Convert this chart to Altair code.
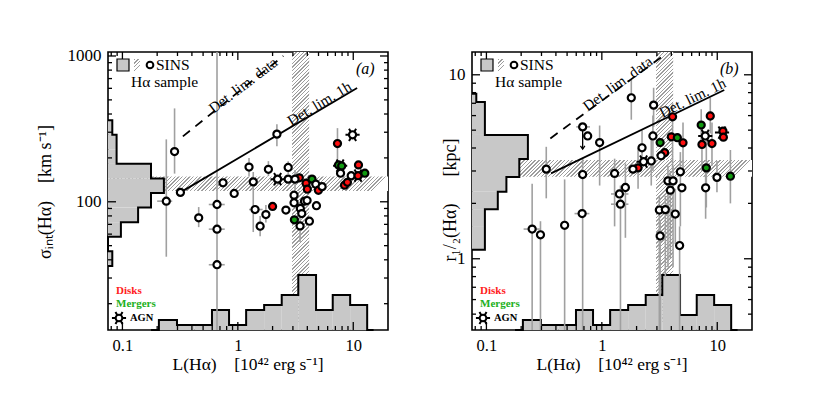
import math
import altair as alt
import pandas as pd

W, H = 280, 278
XDOM = [0.075, 20.0]
YDOM_A = [13.2, 1065.0]
YDOM_B = [0.41, 13.3]
SERIF = "Liberation Serif"

# ---------------- panel (a): L(Ha) [1e42 erg/s] vs sigma_int [km/s] ----------------
A_L = [0.24, 0.318, 0.283, 0.458, 0.66, 0.66, 0.66, 0.744, 0.93, 1.25,
       1.36, 1.41, 1.56, 1.75, 2.0, 1.84, 2.18, 2.21, 2.61, 2.73,
       2.73, 3.07, 3.07, 3.41, 3.13, 3.48, 3.58, 3.09, 3.46, 3.78,
       3.98, 3.9, 4.0, 4.39, 4.74, 4.99, 5.37, 4.17, 4.8, 7.3,
       9.86, 7.45, 7.94, 7.76, 11.1, 9.6, 11.0, 12.6, 8.4, 8.9]
A_S = [101, 116, 221, 77.6, 95.8, 64.9, 37, 135, 114, 173,
       137, 88.5, 68, 81.7, 92.9, 167, 291, 143, 87.7, 172,
       143, 111, 98.4, 146, 143, 90, 83, 75.2, 68.3, 101,
       102, 134, 122, 143, 132, 120, 127, 73.6, 94, 251,
       288, 179, 176, 157, 179, 151, 151, 157, 130, 136]
A_K = list("oooooooooo" "oooodooooo" "ooodooomoo" "oddmodoood" "ommododmdd")

A_EB_L = [0.24, 0.283, 0.458, 0.66, 1.25, 1.36, 1.56, 1.75, 1.84, 2.18, 3.46, 7.3, 3.13, 2.73]
A_EB_LO = [42, 156, 67, 13.2, 150, 62, 58, 72, 150, 240, 53, 179, 120, 155]
A_EB_HI = [268, 437, 92, 1065, 200, 160, 80, 95, 190, 340, 80, 320, 165, 190]
A_HB_S = [101, 95.8, 64.9, 37, 88.5]
A_HB_LO = [0.2, 0.56, 0.56, 0.56, 1.25]
A_HB_HI = [0.27, 0.77, 0.77, 0.77, 1.64]
A_AGN_L = [2.21, 9.86, 7.7, 11.0]
A_AGN_S = [143, 288, 177, 151]
A_DASH_L = [0.334, 2.48]
A_DASH_S = [281, 1000]
A_SOLID_L = [0.318, 10.8]
A_SOLID_S = [116, 604]
A_LAB_L = [1.11, 5.08]
A_LAB_S = [631, 472]
A_LAB_ANG = [323, 329]
A_BAND_Y = [118.5, 149.0]
A_YH_EDGES = [36.3, 45.7, 57.5, 72.4, 91.2, 114.8, 144.5, 182.0, 229.0, 288.0, 363.0]
A_YH_COUNTS = [1, 0, 3, 7, 10, 13, 10, 2, 2, 1]

# ---------------- panel (b): L(Ha) vs r_1/2 [kpc] ----------------
B_L = [0.33, 0.682, 0.754, 0.957, 0.682, 0.675, 0.249, 0.294, 0.476, 1.80,
       2.81, 4.1, 2.77, 3.2, 4.0, 4.51, 5.05, 2.23, 3.5, 3.26,
       2.68, 2.3, 2.06, 1.86, 1.29, 1.6, 1.42, 1.45, 4.79, 3.74,
       4.14, 3.92, 4.94, 3.15, 3.55, 4.33, 3.2, 4.72, 8.7, 7.26,
       7.87, 7.37, 9.0, 11.2, 11.3, 8.04, 9.94, 13.0, 7.93]
B_R = [3.07, 5.21, 4.65, 4.28, 2.87, 1.76, 1.45, 1.35, 1.52, 7.5,
       6.84, 5.91, 4.65, 4.28, 4.6, 4.55, 4.27, 4.01, 3.77, 3.63,
       3.4, 3.37, 3.12, 3.07, 2.91, 2.44, 2.25, 1.98, 2.97, 2.65,
       2.65, 2.36, 2.43, 1.84, 1.85, 1.75, 1.33, 1.18, 5.97, 5.33,
       4.65, 4.18, 4.23, 4.94, 4.58, 3.12, 2.77, 2.81, 2.43]
B_K = list("oooooooooo" "odomdmdodo" "oodooooooo" "oooooooodm" "oddddmomo")

B_EB_L = [0.33, 0.957, 0.682, 0.249, 0.294, 0.476, 1.80, 4.1, 5.05, 1.29,
          1.6, 1.45, 4.79, 3.74, 4.14, 3.92, 3.15, 3.2, 4.72, 3.55,
          4.33, 7.93, 9.94, 8.04, 13.0, 7.26, 8.7, 2.23, 2.68, 2.06,
          2.81, 2.77, 7.37, 9.0]
B_EB_LO = [2.13, 2.5, 0.41, 0.41, 0.41, 0.41, 5.7, 3.0, 3.0, 1.5,
           1.3, 0.41, 1.5, 0.9, 0.9, 1.0, 0.41, 0.41, 0.41, 0.8,
           1.2, 1.65, 2.3, 1.9, 2.0, 4.0, 4.8, 3.2, 2.5, 2.4,
           5.2, 3.0, 3.0, 3.2]
B_EB_HI = [4.06, 5.3, 3.5, 2.56, 1.6, 2.7, 9.4, 7.0, 5.5, 3.5,
           3.3, 2.5, 3.8, 3.2, 3.2, 3.0, 2.2, 1.6, 1.5, 2.2,
           2.4, 3.0, 3.4, 4.5, 3.9, 6.5, 7.5, 5.0, 4.5, 4.0,
           8.5, 6.0, 5.5, 5.5]
B_HB_R = [5.21, 1.76, 1.45, 2.25, 1.98]
B_HB_LO = [0.6, 0.58, 0.21, 1.2, 1.2]
B_HB_HI = [0.79, 0.78, 0.29, 1.7, 1.7]
B_AGN_L = [2.3, 7.87, 11.0]
B_AGN_R = [3.37, 4.65, 4.85]
B_ARROW_L = [0.682]
B_ARROW_FROM = [5.21]
B_ARROW_TO = [3.95]
B_DASH_L = [0.358, 3.47]
B_DASH_R = [4.51, 12.8]
B_SOLID_L = [0.363, 11.5]
B_SOLID_R = [2.91, 8.26]
B_LAB_L = [1.37, 6.11]
B_LAB_R = [8.95, 7.5]
B_LAB_ANG = [324, 334]
B_BAND_Y = [2.79, 3.44]
B_YH_EDGES = [1.12, 1.49, 1.86, 2.31, 2.78, 3.49, 4.71, 7.11, 7.88]
B_YH_COUNTS = [3, 3, 6, 8, 11, 13, 3, 1]

# ---------------- shared: L(Ha) histogram of the Ha sample ----------------
HX_EDGES = [0.207, 0.297, 0.42, 0.597, 0.839, 1.18, 1.69, 2.40, 3.34, 4.76, 6.64, 9.4, 13.2]
HX_COUNTS_A = [2, 1, 1, 4, 1, 4, 5, 7, 11, 4, 7, 5]
HX_COUNTS_B = [2, 1, 1, 4, 1, 4, 5, 7, 11, 3, 7, 5]
HX_ENDS = [0.177, 15.0]
BAND_L = [2.95, 4.15]
DET_LABELS = ["Det. lim. data", "Det. lim. 1h"]

HX_UNIT = 5.0   # px per count (bottom histogram)
HY_UNIT = 4.3   # px per count (left histogram)


def hatch(w, h, period=2.6, frac=0.38, dark="#9d9d9d", light="#ffffff"):
    m = max(w, h)
    length = (w * w + h * h) / (m * math.sqrt(2))
    n = max(1, int(round(length / period)))
    stops = []
    for k in range(n):
        a, b, c = k / n, (k + frac) / n, (k + 1) / n
        stops += [alt.GradientStop(color=dark, offset=a), alt.GradientStop(color=dark, offset=b),
                  alt.GradientStop(color=light, offset=b), alt.GradientStop(color=light, offset=c)]
    return alt.LinearGradient(gradient="linear", stops=stops, x1=0, y1=0, x2=w / m, y2=h / m)


def px_span(lo, hi, dom, size):
    return size * math.log10(hi / lo) / math.log10(dom[1] / dom[0])


SPOKES = "M-1,0L1,0M-0.5,-0.866L0.5,0.866M-0.5,0.866L0.5,-0.866"
ARROWHEAD = "M-0.7,-1L0,0L0.7,-1"


def panel(L, V, K, eb_l, eb_lo, eb_hi, hb_v, hb_lo, hb_hi, agn_l, agn_v,
          dash_l, dash_v, sol_l, sol_v, lab_l, lab_v, lab_ang, band_y,
          yh_edges, yh_counts, hx_counts, ydom, ymaj, ymin, ytitle, ytitle_x,
          ytitle_y, tag, arrow=None):
    XS = alt.Scale(type="log", domain=XDOM)
    YS = alt.Scale(type="log", domain=ydom)
    XAX = alt.Axis(values=[0.1, 1, 10], ticks=False, tickSize=0, domain=False, grid=False, title=None,
                   labelFont=SERIF, labelFontSize=16.5, labelColor="black", labelPadding=7,
                   format="~g", labelFlush=False, labelOverlap=False)
    YAX = alt.Axis(values=ymaj, ticks=False, tickSize=0, domain=False, grid=False, title=None,
                   labelFont=SERIF, labelFontSize=17, labelColor="black", labelPadding=7,
                   format="~g", labelFlush=False, labelOverlap=False)
    XN = lambda f: alt.X(f, scale=XS, axis=XAX)
    YN = lambda f: alt.Y(f, scale=YS, axis=YAX)
    one = pd.DataFrame({"z": [0]})
    layers = []

    # hatched bands
    vb = pd.DataFrame({"lo": [BAND_L[0]], "hi": [BAND_L[1]]})
    layers.append(alt.Chart(vb).mark_rect(fill=hatch(px_span(BAND_L[0], BAND_L[1], XDOM, W), H)).encode(
        x=XN("lo:Q"), x2="hi:Q", y=alt.value(0), y2=alt.value(H)))
    hb = pd.DataFrame({"lo": [band_y[0]], "hi": [band_y[1]]})
    layers.append(alt.Chart(hb).mark_rect(fill=hatch(W, px_span(band_y[0], band_y[1], ydom, H))).encode(
        y=YN("lo:Q"), y2="hi:Q", x=alt.value(0), x2=alt.value(W)))

    # bottom histogram (L distribution): counts -> position on the log y axis
    ytop = f"{ydom[0]} * pow({ydom[1] / ydom[0]}, datum.c * {HX_UNIT / H})"
    hx = pd.DataFrame({"lo": HX_EDGES[:-1], "hi": HX_EDGES[1:], "c": hx_counts})
    layers.append(alt.Chart(hx).transform_calculate(yt=ytop).mark_rect(fill="#c8c8c8").encode(
        x=XN("lo:Q"), x2="hi:Q", y=YN("yt:Q"), y2=alt.value(H)))
    ox = [HX_ENDS[0]] + HX_EDGES + [HX_ENDS[1]]
    oc = [0] + list(hx_counts) + [0, 0]
    hxo = pd.DataFrame({"x": ox, "c": oc, "i": list(range(len(ox)))})
    layers.append(alt.Chart(hxo).transform_calculate(yt=ytop).mark_line(
        color="black", strokeWidth=2, interpolate="step-after").encode(
        x=XN("x:Q"), y=YN("yt:Q"), order="i:Q"))

    # left histogram (sigma / r distribution): counts -> position on the log x axis
    xright = f"{XDOM[0]} * pow({XDOM[1] / XDOM[0]}, datum.c * {HY_UNIT / W})"
    hy = pd.DataFrame({"lo": yh_edges[:-1], "hi": yh_edges[1:], "c": yh_counts})
    layers.append(alt.Chart(hy).transform_calculate(xr=xright).mark_rect(fill="#c8c8c8").encode(
        y=YN("lo:Q"), y2="hi:Q", x=XN("xr:Q"), x2=alt.value(0)))
    oy = [yh_edges[0]] + list(yh_edges)
    ocy = [0] + list(yh_counts) + [0]
    hyo = pd.DataFrame({"y": oy, "c": ocy, "i": list(range(len(oy)))})
    layers.append(alt.Chart(hyo).transform_calculate(xr=xright).mark_line(
        color="black", strokeWidth=2, interpolate="step-before").encode(
        y=YN("y:Q"), x=XN("xr:Q"), order="i:Q"))

    # error bars
    eb = pd.DataFrame({"L": eb_l, "lo": eb_lo, "hi": eb_hi})
    layers.append(alt.Chart(eb).mark_rule(color="#a0a0a0", strokeWidth=1.6, clip=True).encode(
        x=XN("L:Q"), y=YN("lo:Q"), y2="hi:Q"))
    hbar = pd.DataFrame({"v": hb_v, "lo": hb_lo, "hi": hb_hi})
    layers.append(alt.Chart(hbar).mark_rule(color="#a0a0a0", strokeWidth=1.6, clip=True).encode(
        y=YN("v:Q"), x=XN("lo:Q"), x2="hi:Q"))

    # detection limit lines and labels
    dd = pd.DataFrame({"L": dash_l, "v": dash_v})
    layers.append(alt.Chart(dd).mark_line(color="black", strokeWidth=1.8, strokeDash=[9, 7], clip=True).encode(
        x=XN("L:Q"), y=YN("v:Q")))
    sd = pd.DataFrame({"L": sol_l, "v": sol_v})
    layers.append(alt.Chart(sd).mark_line(color="black", strokeWidth=1.8, clip=True).encode(
        x=XN("L:Q"), y=YN("v:Q")))
    for i in range(2):
        ld = pd.DataFrame({"L": [lab_l[i]], "v": [lab_v[i]], "t": [DET_LABELS[i]]})
        layers.append(alt.Chart(ld).mark_text(font=SERIF, fontSize=15, angle=lab_ang[i],
                                              align="center", baseline="middle", color="black").encode(
            x=XN("L:Q"), y=YN("v:Q"), text="t:N"))

    if arrow is not None:
        ar = pd.DataFrame({"L": arrow[0], "a": arrow[1], "b": arrow[2]})
        layers.append(alt.Chart(ar).mark_rule(color="black", strokeWidth=1.3).encode(
            x=XN("L:Q"), y=YN("a:Q"), y2="b:Q"))
        layers.append(alt.Chart(ar).mark_point(shape=ARROWHEAD, size=40, filled=False, color="black",
                                               strokeWidth=1.3, opacity=1).encode(x=XN("L:Q"), y=YN("b:Q")))

    # AGN spokes then circles
    ag = pd.DataFrame({"L": agn_l, "v": agn_v})
    layers.append(alt.Chart(ag).mark_point(shape=SPOKES, size=200, filled=False, color="black",
                                           strokeWidth=2, opacity=1).encode(x=XN("L:Q"), y=YN("v:Q")))
    pts = pd.DataFrame({"L": L, "v": V, "k": K})
    layers.append(alt.Chart(pts).mark_point(filled=True, size=50, stroke="black", strokeWidth=2.2,
                                            opacity=1, strokeOpacity=1).encode(
        x=XN("L:Q"), y=YN("v:Q"),
        fill=alt.Fill("k:N", scale=alt.Scale(domain=["o", "d", "m"],
                                             range=["white", "#ff1010", "#109a10"]), legend=None)))

    # inward ticks on all four sides
    xmaj = [0.1, 1, 10]
    xmin = [0.08, 0.09] + [k / 10 for k in range(2, 10)] + list(range(2, 10))
    for vals, ln in ((xmaj, 8), (xmin, 4)):
        td = pd.DataFrame({"v": vals})
        layers.append(alt.Chart(td).mark_rule(color="black", strokeWidth=1.3).encode(
            x=XN("v:Q"), y=alt.value(H), y2=alt.value(H - ln)))
        layers.append(alt.Chart(td).mark_rule(color="black", strokeWidth=1.3).encode(
            x=XN("v:Q"), y=alt.value(0), y2=alt.value(ln)))
    for vals, ln in ((ymaj, 8), (ymin, 4)):
        td = pd.DataFrame({"v": vals})
        layers.append(alt.Chart(td).mark_rule(color="black", strokeWidth=1.3).encode(
            y=YN("v:Q"), x=alt.value(0), x2=alt.value(ln)))
        layers.append(alt.Chart(td).mark_rule(color="black", strokeWidth=1.3).encode(
            y=YN("v:Q"), x=alt.value(W), x2=alt.value(W - ln)))

    # in-plot legend
    layers.append(alt.Chart(one).mark_rect(fill="#c8c8c8", stroke="black", strokeWidth=1.2).encode(
        x=alt.value(9), x2=alt.value(21), y=alt.value(7), y2=alt.value(19)))
    layers.append(alt.Chart(one).mark_rect(fill=hatch(6, 12, period=2.4)).encode(
        x=alt.value(26), x2=alt.value(32), y=alt.value(7), y2=alt.value(19)))
    layers.append(alt.Chart(one).mark_point(filled=True, fill="white", stroke="black", strokeWidth=2,
                                            size=45, opacity=1).encode(x=alt.value(42), y=alt.value(13)))
    texts = [("SINS", 48, 13, 15.5, "black", "normal", "normal", SERIF),
             ("H\u03b1 sample", 23, 30, 15.5, "black", "normal", "normal", SERIF),
             (tag, 248, 17, 16, "black", "italic", "normal", SERIF),
             ("Disks", 8, 239, 11, "#ff2020", "normal", "bold", SERIF),
             ("Mergers", 8, 251.5, 11, "#20b020", "normal", "bold", SERIF),
             ("AGN", 22, 266, 10.5, "black", "normal", "bold", SERIF)]
    for t, x, y, fs, col, sty, wt, fnt in texts:
        layers.append(alt.Chart(one).mark_text(text=t, font=fnt, fontSize=fs, color=col, fontStyle=sty,
                                               fontWeight=wt, align="left", baseline="middle").encode(
            x=alt.value(x), y=alt.value(y)))
    layers.append(alt.Chart(one).mark_point(shape=SPOKES, size=200, filled=False, color="black",
                                            strokeWidth=2, opacity=1).encode(x=alt.value(11), y=alt.value(266)))
    layers.append(alt.Chart(one).mark_point(filled=True, fill="white", stroke="black", strokeWidth=2,
                                            size=45, opacity=1).encode(x=alt.value(11), y=alt.value(266)))

    # axis titles
    layers.append(alt.Chart(one).mark_text(text=ytitle, font=SERIF, fontSize=18, angle=270, color="black",
                                           align="center", baseline="middle").encode(
        x=alt.value(ytitle_x), y=alt.value(ytitle_y)))
    layers.append(alt.Chart(one).mark_text(text="L(H\u03b1)\u2002\u2002[10\u2074\u00b2 erg s\u207b\u00b9]",
                                           font=SERIF, fontSize=17.5, color="black",
                                           align="center", baseline="middle").encode(
        x=alt.value(140), y=alt.value(313)))

    return alt.layer(*layers).properties(width=W, height=H)


pa = panel(A_L, A_S, A_K, A_EB_L, A_EB_LO, A_EB_HI, A_HB_S, A_HB_LO, A_HB_HI, A_AGN_L, A_AGN_S,
           A_DASH_L, A_DASH_S, A_SOLID_L, A_SOLID_S, A_LAB_L, A_LAB_S, A_LAB_ANG, A_BAND_Y,
           A_YH_EDGES, A_YH_COUNTS, HX_COUNTS_A, YDOM_A, [100, 1000],
           [k * 10 for k in range(2, 10)] + [k * 100 for k in range(2, 10)],
           "\u03c3\u1d62\u2099\u209c(H\u03b1)\u2002\u2002[km s\u207b\u00b9]", -62, 140, "(a)")
pb = panel(B_L, B_R, B_K, B_EB_L, B_EB_LO, B_EB_HI, B_HB_R, B_HB_LO, B_HB_HI, B_AGN_L, B_AGN_R,
           B_DASH_L, B_DASH_R, B_SOLID_L, B_SOLID_R, B_LAB_L, B_LAB_R, B_LAB_ANG, B_BAND_Y,
           B_YH_EDGES, B_YH_COUNTS, HX_COUNTS_B, YDOM_B, [1, 10],
           [k / 10 for k in range(5, 10)] + list(range(2, 10)),
           "r\u2081/\u2082(H\u03b1)\u2002\u2002\u2002[kpc]", -21, 148, "(b)",
           arrow=(B_ARROW_L, B_ARROW_FROM, B_ARROW_TO))

chart = alt.hconcat(pa, pb, spacing=51).configure_view(stroke="black", strokeWidth=1.6).properties(
    padding={"left": 28, "top": 38, "right": 5, "bottom": 5}, background="white")
chart.save("out.html", embed_options={"renderer": "svg", "actions": False})
